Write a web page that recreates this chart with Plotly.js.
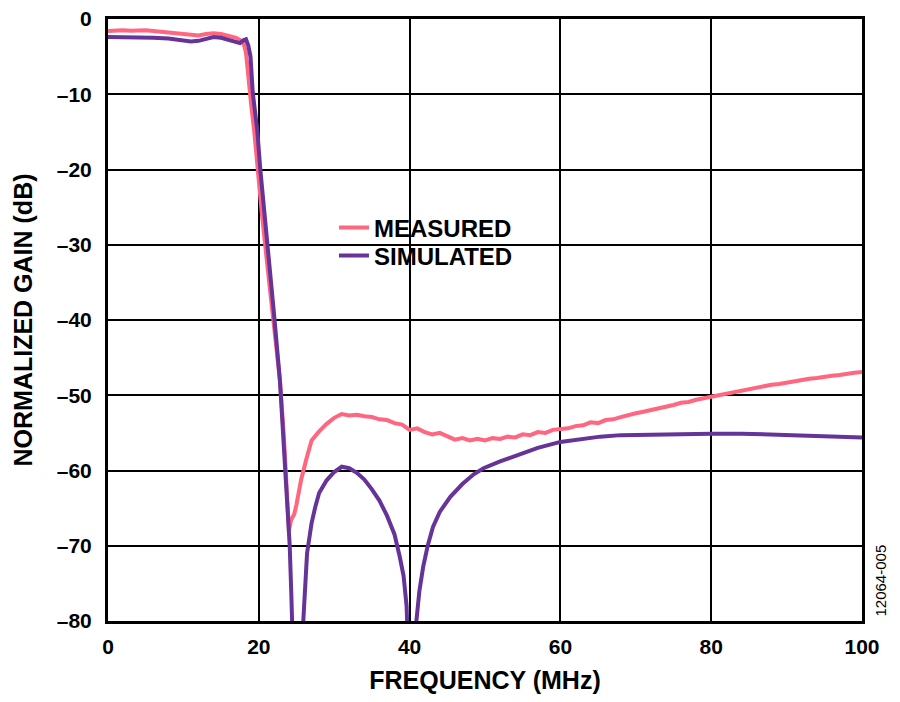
<!DOCTYPE html>
<html>
<head>
<meta charset="utf-8">
<script src="https://cdn.plot.ly/plotly-3.0.1.min.js"></script>
<style>
  html, body { margin: 0; padding: 0; background: #fff; }
  #chart { width: 900px; height: 702px; }
</style>
</head>
<body>
<div id="chart"></div>
<script>
// Measured response (MHz, dB)
var measuredFreq = [0, 1, 2, 3, 4, 5, 6, 7, 8, 9, 10, 11, 12, 13, 14, 15, 16, 17, 17.5, 18, 18.3, 18.6, 19, 19.4, 19.8, 20.4, 21, 21.6, 22.2, 22.8, 23.3, 23.7, 24, 24.3, 24.7, 25, 25.6, 26.3, 27, 28, 29, 30, 31, 32, 33, 34, 35, 36, 37, 38, 39, 40, 41, 42, 43, 44, 45, 46, 47, 48, 49, 50, 51, 52, 53, 54, 55, 56, 57, 58, 59, 60, 61, 62, 63, 64, 65, 66, 67, 68, 69, 70, 71, 72, 73, 74, 75, 76, 77, 78, 79, 80, 81, 82, 83, 84, 85, 86, 87, 88, 89, 90, 91, 92, 93, 94, 95, 96, 97, 98, 99, 100];
var measuredGain = [-1.6, -1.5, -1.5, -1.55, -1.5, -1.5, -1.6, -1.7, -1.8, -1.9, -2.0, -2.1, -2.2, -2.0, -1.9, -2.0, -2.3, -2.5, -2.8, -3.3, -4.5, -8, -11.5, -15, -19.5, -25.8, -31.5, -37, -42.5, -48, -55, -63, -68, -66.5, -65.8, -64.5, -61.3, -58.5, -56, -54.8, -53.8, -53.0, -52.5, -52.7, -52.6, -52.8, -52.9, -53.2, -53.3, -53.7, -53.9, -54.6, -54.4, -54.9, -55.2, -55.0, -55.5, -55.9, -55.7, -56.0, -55.8, -56.0, -55.7, -55.8, -55.5, -55.6, -55.2, -55.3, -54.9, -55.0, -54.6, -54.5, -54.4, -54.1, -54.0, -53.6, -53.7, -53.3, -53.2, -52.9, -52.6, -52.4, -52.2, -52.0, -51.7, -51.5, -51.3, -51.0, -50.9, -50.6, -50.4, -50.1, -50.0, -49.8, -49.5, -49.4, -49.1, -49.0, -48.8, -48.6, -48.5, -48.3, -48.2, -48.0, -47.8, -47.7, -47.5, -47.4, -47.3, -47.1, -47.0, -46.9];

// Simulated response (MHz, dB)
var simulatedFreq = [0, 2, 4, 6, 8, 10, 11, 12, 13, 14, 15, 16, 17, 17.5, 18, 18.3, 18.6, 18.9, 19.2, 19.5, 19.8, 20.2, 20.8, 21.4, 22, 22.8, 23.3, 23.7, 23.9, 24.1, 24.3, 24.5, 25, 25.5, 25.9, 26.4, 27, 27.5, 28, 29, 30, 31, 32, 33, 34, 35, 36, 37, 38, 38.7, 39.2, 39.6, 40.2, 40.9, 41.3, 41.8, 42.4, 43.1, 44, 45.4, 47, 48.5, 49.8, 52, 54.2, 57, 60, 62, 65.3, 68, 72, 76, 80, 84, 88, 92, 96, 100];
var simulatedGain = [-2.4, -2.4, -2.45, -2.5, -2.6, -2.85, -3.0, -2.9, -2.6, -2.4, -2.5, -2.8, -3.0, -3.2, -2.8, -2.7, -3.5, -5, -9.8, -12.5, -14.8, -20, -26, -32.5, -39, -48, -56, -61.5, -64.8, -70, -76, -85, -100, -90, -80, -71, -67, -64.8, -63, -61.3, -60.2, -59.5, -59.7, -60.3, -61.2, -62.5, -64, -66, -68.5, -71.5, -74, -78, -95, -80, -76, -72.8, -70, -67.5, -65.5, -63.5, -61.8, -60.5, -59.7, -58.8, -58, -57, -56.2, -55.9, -55.5, -55.3, -55.2, -55.1, -55.1, -55.1, -55.2, -55.4, -55.5, -55.6];

var xTickVals = [0, 20, 40, 60, 80, 100];
var xTickText = ['0', '20', '40', '60', '80', '100'];
var yTickVals = [0, -10, -20, -30, -40, -50, -60, -70, -80];
var yTickText = ['0', '–10', '–20', '–30', '–40', '–50', '–60', '–70', '–80'];

var FONT = 'Liberation Sans, Arial, sans-serif';

var traces = [
  {
    x: measuredFreq, y: measuredGain, name: 'MEASURED', type: 'scatter', mode: 'lines',
    line: { color: '#FF6680', width: 4 }, legend: 'legend'
  },
  {
    x: simulatedFreq, y: simulatedGain, name: 'SIMULATED', type: 'scatter', mode: 'lines',
    line: { color: '#663399', width: 4 }, legend: 'legend2'
  }
];

var legendFont = { family: FONT, size: 24, color: '#000', weight: 'bold' };

var layout = {
  width: 900, height: 702,
  margin: { l: 108, r: 38, t: 19, b: 81 },
  paper_bgcolor: '#fff', plot_bgcolor: '#fff',
  font: { family: FONT, color: '#000' },
  showlegend: true,
  legend: {
    x: 0.2997, y: 0.6903, xanchor: 'left', yanchor: 'top',
    bgcolor: 'rgba(0,0,0,0)', borderwidth: 0, font: legendFont, itemwidth: 30
  },
  legend2: {
    x: 0.2997, y: 0.6437, xanchor: 'left', yanchor: 'top',
    bgcolor: 'rgba(0,0,0,0)', borderwidth: 0, font: legendFont, itemwidth: 30
  },
  shapes: [
    {
      type: 'rect', xref: 'paper', yref: 'paper', layer: 'between',
      x0: 0.2984, x1: 0.5597, y0: 0.5797, y1: 0.6827,
      fillcolor: '#fff', line: { width: 0 }
    }
  ],
  xaxis: {
    range: [0, 100], tickvals: xTickVals, ticktext: xTickText,
    showgrid: true, gridcolor: '#000', gridwidth: 2,
    showline: true, linecolor: '#000', linewidth: 3, mirror: true,
    zeroline: false, ticks: '', ticklabelstandoff: 5,
    tickfont: { family: FONT, size: 21, color: '#000', weight: 'bold' },
    title: { text: 'FREQUENCY (MHz)', font: { family: FONT, size: 25, color: '#000', weight: 'bold' }, standoff: 15 }
  },
  yaxis: {
    range: [-80, 0], tickvals: yTickVals, ticktext: yTickText,
    showgrid: true, gridcolor: '#000', gridwidth: 2,
    showline: true, linecolor: '#000', linewidth: 3, mirror: true,
    zeroline: false, ticks: '', ticklabelstandoff: 9,
    tickfont: { family: FONT, size: 21, color: '#000', weight: 'bold' },
    title: { text: 'NORMALIZED GAIN (dB)', font: { family: FONT, size: 25, color: '#000', weight: 'bold' }, standoff: 18 }
  },
  annotations: [
    {
      text: '12064-005', xref: 'paper', yref: 'paper', x: 1.025, y: 0.067,
      xanchor: 'center', yanchor: 'middle', textangle: -90, showarrow: false,
      font: { family: FONT, size: 15, color: '#000' }
    }
  ]
};

Plotly.newPlot('chart', traces, layout, { displayModeBar: false, staticPlot: true });
</script>
</body>
</html>
